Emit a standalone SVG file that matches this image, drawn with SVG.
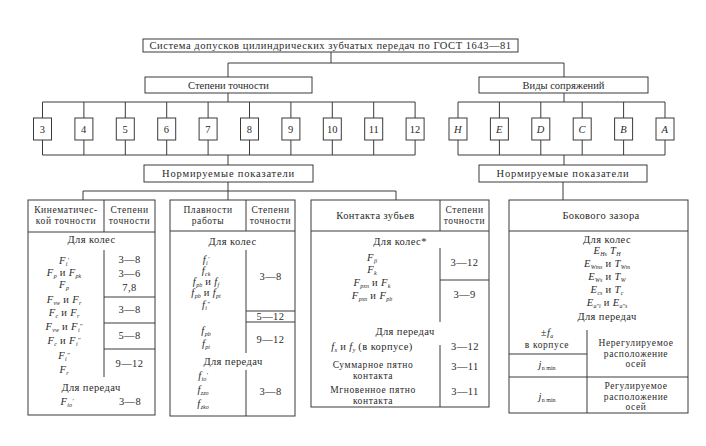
<svg xmlns="http://www.w3.org/2000/svg" width="706" height="446" viewBox="0 0 706 446">
<style>
  text{font-family:"Liberation Serif","DejaVu Serif",serif;font-size:10.5px;fill:#2a2a2a;letter-spacing:0.4px}
  .c{text-anchor:middle}
  .m{font-style:italic}
  .n{font-style:normal}
  .s{font-size:6px;baseline-shift:-2px;letter-spacing:0}
  .p{font-size:7px;baseline-shift:2.5px;letter-spacing:0}
  .h{font-size:9.5px;letter-spacing:0.6px}
  .tight{letter-spacing:0}
  .wide{letter-spacing:0.8px}
  .box{fill:#fff;stroke:#3a3a3a;stroke-width:1}
  .ln{stroke:#3a3a3a;stroke-width:1;fill:none}
</style>
<rect width="706" height="446" fill="#fff"/>

<!-- connectors -->
<g id="connectors" class="ln">
  <path d="M331 52V63M228 63H564M228 63V77M564 63V77"/>
  <!-- accuracy degrees bus -->
  <path d="M228 93V102M42.5 102H415.1M42.5 155H415.1M228 155V165"/>
  <path d="M42.5 102V118M83.9 102V118M125.3 102V118M166.7 102V118M208.1 102V118M249.5 102V118M290.9 102V118M332.3 102V118M373.7 102V118M415.1 102V118"/>
  <path d="M42.5 140V155M83.9 140V155M125.3 140V155M166.7 140V155M208.1 140V155M249.5 140V155M290.9 140V155M332.3 140V155M373.7 140V155M415.1 140V155"/>
  <!-- mating types bus -->
  <path d="M564 93V102M458 102H665M458 155H665M564 155V165"/>
  <path d="M458 102V118M499.4 102V118M540.8 102V118M582.2 102V118M623.6 102V118M665 102V118"/>
  <path d="M458 140V155M499.4 140V155M540.8 140V155M582.2 140V155M623.6 140V155M665 140V155"/>
  <!-- to tables -->
  <path d="M228 182V191M83 191H396M83 191V200M228 191V200M396 191V200"/>
  <path d="M563 182V200"/>
</g>

<g id="system">
  <rect class="box" x="143" y="39" width="375" height="13"/>
  <text class="c" x="330.5" y="49" font-size="10" textLength="362">Система допусков цилиндрических зубчатых передач по ГОСТ 1643—81</text>
</g>

<g id="degrees">
  <rect class="box" x="145" y="77" width="167" height="16"/>
  <text class="c tight" x="228.5" y="88.5">Степени точности</text>
</g>
<g id="mating">
  <rect class="box" x="479" y="77" width="169" height="16"/>
  <text class="c tight" x="563.5" y="88.5">Виды сопряжений</text>
</g>

<g id="deg-3"><rect class="box" x="33.5" y="118" width="18" height="22"/><text class="c" x="42.5" y="132.5">3</text></g>
<g id="deg-4"><rect class="box" x="74.9" y="118" width="18" height="22"/><text class="c" x="83.9" y="132.5">4</text></g>
<g id="deg-5"><rect class="box" x="116.3" y="118" width="18" height="22"/><text class="c" x="125.3" y="132.5">5</text></g>
<g id="deg-6"><rect class="box" x="157.7" y="118" width="18" height="22"/><text class="c" x="166.7" y="132.5">6</text></g>
<g id="deg-7"><rect class="box" x="199.1" y="118" width="18" height="22"/><text class="c" x="208.1" y="132.5">7</text></g>
<g id="deg-8"><rect class="box" x="240.5" y="118" width="18" height="22"/><text class="c" x="249.5" y="132.5">8</text></g>
<g id="deg-9"><rect class="box" x="281.9" y="118" width="18" height="22"/><text class="c" x="290.9" y="132.5">9</text></g>
<g id="deg-10"><rect class="box" x="323.3" y="118" width="18" height="22"/><text class="c tight" x="332.3" y="132.5">10</text></g>
<g id="deg-11"><rect class="box" x="364.7" y="118" width="18" height="22"/><text class="c tight" x="373.7" y="132.5">11</text></g>
<g id="deg-12"><rect class="box" x="406.1" y="118" width="18" height="22"/><text class="c tight" x="415.1" y="132.5">12</text></g>

<g id="mate-H"><rect class="box" x="449" y="118" width="18" height="22"/><text class="c m" x="458" y="132.5">H</text></g>
<g id="mate-E"><rect class="box" x="490.4" y="118" width="18" height="22"/><text class="c m" x="499.4" y="132.5">E</text></g>
<g id="mate-D"><rect class="box" x="531.8" y="118" width="18" height="22"/><text class="c m" x="540.8" y="132.5">D</text></g>
<g id="mate-C"><rect class="box" x="573.2" y="118" width="18" height="22"/><text class="c m" x="582.2" y="132.5">C</text></g>
<g id="mate-B"><rect class="box" x="614.6" y="118" width="18" height="22"/><text class="c m" x="623.6" y="132.5">B</text></g>
<g id="mate-A"><rect class="box" x="656" y="118" width="18" height="22"/><text class="c m" x="665" y="132.5">A</text></g>

<g id="norms-left">
  <rect class="box" x="144" y="165" width="169" height="17"/>
  <text class="c wide" x="228.5" y="177">Нормируемые показатели</text>
</g>
<g id="norms-right">
  <rect class="box" x="479" y="165" width="168" height="17"/>
  <text class="c wide" x="563" y="177">Нормируемые показатели</text>
</g>

<!-- kinematic accuracy -->
<g id="table-kinematic">
  <rect class="box" x="28" y="200" width="127" height="215"/>
  <path class="ln" d="M28 232H155M104 200V232M104 250V377M104 297H155M104 323H155M104 349H155"/>
  <text class="c h" x="66" y="213">Кинематичес-</text>
  <text class="c h" x="66" y="224">кой точности</text>
  <text class="c h" x="129.5" y="213">Степени</text>
  <text class="c h" x="129.5" y="224">точности</text>
  <text class="c" x="91.5" y="243">Для колес</text>
  <text class="c m" x="64" y="264">F<tspan class="s">i</tspan><tspan class="p">′</tspan></text>
  <text class="c m" x="64" y="276">F<tspan class="s">p</tspan><tspan class="n"> и </tspan>F<tspan class="s">pk</tspan></text>
  <text class="c m" x="64" y="288">F<tspan class="s">p</tspan></text>
  <text class="c m" x="64" y="303">F<tspan class="s">vw</tspan><tspan class="n"> и </tspan>F<tspan class="s">r</tspan></text>
  <text class="c m" x="64" y="316">F<tspan class="s">c</tspan><tspan class="n"> и </tspan>F<tspan class="s">r</tspan></text>
  <text class="c m" x="64" y="330">F<tspan class="s">vw</tspan><tspan class="n"> и </tspan>F<tspan class="s">i</tspan><tspan class="p">″</tspan></text>
  <text class="c m" x="64" y="344">F<tspan class="s">c</tspan><tspan class="n"> и </tspan>F<tspan class="s">i</tspan><tspan class="p">″</tspan></text>
  <text class="c m" x="64" y="359">F<tspan class="s">i</tspan><tspan class="p">″</tspan></text>
  <text class="c m" x="64" y="373">F<tspan class="s">r</tspan></text>
  <text class="c" x="129.5" y="262.5">3—8</text>
  <text class="c" x="129.5" y="276.5">3—6</text>
  <text class="c" x="129.5" y="290.5">7,8</text>
  <text class="c" x="129.5" y="313">3—8</text>
  <text class="c" x="129.5" y="339">5—8</text>
  <text class="c" x="129.5" y="367">9—12</text>
  <text class="c" x="91" y="391">Для передач</text>
  <text class="c m" x="67" y="405">F<tspan class="s">io</tspan><tspan class="p">′</tspan></text>
  <text class="c" x="130" y="405">3—8</text>
</g>

<!-- smoothness -->
<g id="table-smoothness">
  <rect class="box" x="170" y="200" width="125" height="216"/>
  <path class="ln" d="M170 231H295M246 200V231M246 250V353M246 370V416M246 311H295M246 322H295"/>
  <text class="c h" x="208" y="213">Плавности</text>
  <text class="c h" x="208" y="224">работы</text>
  <text class="c h" x="270.5" y="213">Степени</text>
  <text class="c h" x="270.5" y="224">точности</text>
  <text class="c" x="232.5" y="245">Для колес</text>
  <text class="c m" x="206" y="263">f<tspan class="s">i</tspan><tspan class="p">′</tspan></text>
  <text class="c m" x="206" y="274">f<tspan class="s">ck</tspan></text>
  <text class="c m" x="206" y="285">f<tspan class="s">pb</tspan><tspan class="n"> и </tspan>f<tspan class="s">f</tspan></text>
  <text class="c m" x="206" y="296">f<tspan class="s">pb</tspan><tspan class="n"> и </tspan>f<tspan class="s">pt</tspan></text>
  <text class="c m" x="206" y="308">f<tspan class="s">i</tspan><tspan class="p">″</tspan></text>
  <text class="c m" x="206" y="334">f<tspan class="s">pb</tspan></text>
  <text class="c m" x="206" y="347">f<tspan class="s">pt</tspan></text>
  <text class="c" x="270.5" y="280">3—8</text>
  <text class="c" x="270.5" y="320">5—12</text>
  <text class="c" x="270.5" y="343">9—12</text>
  <text class="c" x="233" y="365">Для передач</text>
  <text class="c m" x="203" y="379">f<tspan class="s">io</tspan><tspan class="p">′</tspan></text>
  <text class="c m" x="203" y="393">f<tspan class="s">zzo</tspan></text>
  <text class="c m" x="203" y="407">f<tspan class="s">zko</tspan></text>
  <text class="c" x="270.5" y="395">3—8</text>
</g>

<!-- tooth contact -->
<g id="table-contact">
  <rect class="box" x="311" y="200" width="178" height="207"/>
  <path class="ln" d="M311 231H489M440 200V231M440 248V322M440 345V407M440 280H489"/>
  <text class="c" x="375.5" y="219">Контакта зубьев</text>
  <text class="c h" x="464.5" y="213">Степени</text>
  <text class="c h" x="464.5" y="224">точности</text>
  <text class="c" x="400" y="245">Для колес*</text>
  <text class="c m" x="372" y="261">F<tspan class="s">β</tspan></text>
  <text class="c m" x="372" y="273">F<tspan class="s">k</tspan></text>
  <text class="c m" x="372" y="286">F<tspan class="s">pxn</tspan><tspan class="n"> и </tspan>F<tspan class="s">k</tspan></text>
  <text class="c m" x="372" y="299">F<tspan class="s">pxn</tspan><tspan class="n"> и </tspan>F<tspan class="s">pb</tspan></text>
  <text class="c" x="464.5" y="266">3—12</text>
  <text class="c" x="464.5" y="298">3—9</text>
  <text class="c" x="405" y="335">Для передач</text>
  <text class="c m" x="372" y="350">f<tspan class="s">x</tspan><tspan class="n">  и </tspan>f<tspan class="s">y</tspan><tspan class="n"> (в корпусе)</tspan></text>
  <text class="c" x="465" y="350">3—12</text>
  <text class="c h" x="373" y="368">Суммарное пятно</text>
  <text class="c h" x="373" y="378.5">контакта</text>
  <text class="c" x="465" y="370">3—11</text>
  <text class="c h" x="373" y="393">Мгновенное пятно</text>
  <text class="c h" x="373" y="403.5">контакта</text>
  <text class="c" x="465" y="395">3—11</text>
</g>

<!-- backlash -->
<g id="table-backlash">
  <rect class="box" x="509" y="200" width="179" height="213"/>
  <path class="ln" d="M509 231H688M587 330V413M509 354H587M509 377H688"/>
  <text class="c" x="601" y="219">Бокового зазора</text>
  <text class="c" x="607" y="243">Для колес</text>
  <text class="c m" x="607" y="254">E<tspan class="s">Hs</tspan><tspan class="n">   </tspan>T<tspan class="s">H</tspan></text>
  <text class="c m" x="607" y="267">E<tspan class="s">Wms</tspan><tspan class="n"> и </tspan>T<tspan class="s">Wm</tspan></text>
  <text class="c m" x="607" y="280">E<tspan class="s">Ws</tspan><tspan class="n"> и </tspan>T<tspan class="s">W</tspan></text>
  <text class="c m" x="607" y="293">E<tspan class="s">cs</tspan><tspan class="n"> и </tspan>T<tspan class="s">c</tspan></text>
  <text class="c m" x="607" y="306">E<tspan class="s">a″i</tspan><tspan class="n"> и </tspan>E<tspan class="s">a″s</tspan></text>
  <text class="c" x="607" y="320">Для передач</text>
  <text class="c" x="547" y="336">±<tspan class="m">f</tspan><tspan class="s m">a</tspan></text>
  <text class="c h" x="547" y="348">в корпусе</text>
  <text class="c m" x="547" y="368">j<tspan class="s n">n min</tspan></text>
  <text class="c h" x="636" y="346">Нерегулируемое</text>
  <text class="c h" x="636" y="356.5">расположение</text>
  <text class="c h" x="636" y="367">осей</text>
  <text class="c m" x="547" y="400">j<tspan class="s n">n min</tspan></text>
  <text class="c h" x="636" y="389">Регулируемое</text>
  <text class="c h" x="636" y="399.5">расположение</text>
  <text class="c h" x="636" y="410">осей</text>
</g>
</svg>
